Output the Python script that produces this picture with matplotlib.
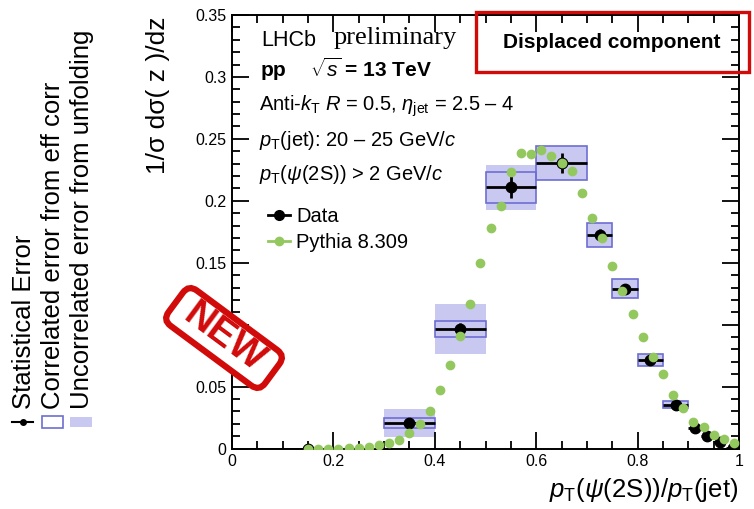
import numpy as np
import matplotlib
matplotlib.use('Agg')
import matplotlib.pyplot as plt
from matplotlib.patches import Rectangle, FancyBboxPatch
from matplotlib.lines import Line2D
from matplotlib.ticker import MultipleLocator, FuncFormatter
from matplotlib.transforms import Affine2D

plt.rcParams['font.family'] = ['Liberation Sans', 'DejaVu Sans']
plt.rcParams['mathtext.fontset'] = 'custom'
plt.rcParams['mathtext.rm'] = 'Liberation Sans'
plt.rcParams['mathtext.it'] = 'Liberation Sans:italic'
plt.rcParams['mathtext.bf'] = 'Liberation Sans:bold'

### Unfolded data (bins in z) ###
bin_lo = [0.0, 0.3, 0.4, 0.5, 0.6, 0.7, 0.75, 0.8, 0.85, 0.9, 0.925, 0.95, 0.975]
bin_hi = [0.3, 0.4, 0.5, 0.6, 0.7, 0.75, 0.8, 0.85, 0.9, 0.925, 0.95, 0.975, 1.0]
data_y = [0.0, 0.0207, 0.0967, 0.211, 0.2306, 0.1725, 0.129, 0.0718, 0.0353,
          0.0164, 0.0102, 0.0056, 0.0007]
stat_err = [0.0, 0.004, 0.005, 0.009, 0.008, 0.005, 0.004, 0.003, 0.002,
            0.002, 0.001, 0.001, 0.001]
corr_err = [0.0, 0.004, 0.0065, 0.0125, 0.014, 0.0098, 0.0075, 0.0048, 0.0028,
            0.0, 0.0, 0.0, 0.0]
uncorr_err = [0.0, 0.011, 0.020, 0.018, 0.014, 0.0098, 0.0075, 0.0048, 0.0028,
              0.0, 0.0, 0.0, 0.0]

### Pythia 8.309 ###
pythia_x = [0.15, 0.17, 0.19, 0.21, 0.23, 0.25, 0.27, 0.29, 0.31, 0.33, 0.35,
            0.37, 0.39, 0.41, 0.43, 0.45, 0.47, 0.49, 0.51, 0.53, 0.55, 0.57,
            0.59, 0.61, 0.63, 0.65, 0.67, 0.69, 0.71, 0.73, 0.75, 0.77, 0.79,
            0.81, 0.83, 0.85, 0.87, 0.89, 0.91, 0.93, 0.95, 0.97, 0.99]
pythia_y = [0.0, 0.0, 0.0, 0.0, 0.0003, 0.0008, 0.0015, 0.0029, 0.0043, 0.0070,
            0.0129, 0.0195, 0.0305, 0.047, 0.0678, 0.091, 0.117, 0.150, 0.178,
            0.196, 0.223, 0.2387, 0.238, 0.2414, 0.236, 0.2306, 0.2244, 0.2063,
            0.186, 0.1696, 0.1474, 0.127, 0.1088, 0.0902, 0.074, 0.0602, 0.0434,
            0.0327, 0.0218, 0.0177, 0.011, 0.0078, 0.0048]

fill_col = '#c8c8f0'
edge_col = '#6e6ed2'
green = '#93c85e'
red = '#d10a0a'

W, H = 754, 509
fig = plt.figure(figsize=(W / 100, H / 100), dpi=100)
ax = fig.add_axes([232 / W, 1 - 448.6 / H, 507 / W, 433.6 / H])

lo = np.array(bin_lo)
hi = np.array(bin_hi)
yc = np.array(data_y)
xc = 0.5 * (lo + hi)

# systematic boxes
for i in range(len(xc)):
    if uncorr_err[i] > 0:
        ax.add_patch(Rectangle((lo[i], yc[i] - uncorr_err[i]), hi[i] - lo[i], 2 * uncorr_err[i],
                               facecolor=fill_col, edgecolor='none', zorder=1))
    if corr_err[i] > 0:
        ax.add_patch(Rectangle((lo[i], yc[i] - corr_err[i]), hi[i] - lo[i], 2 * corr_err[i],
                               facecolor='none', edgecolor=edge_col, lw=1.2, zorder=2))

ax.errorbar(xc, yc, xerr=[xc - lo, hi - xc], yerr=stat_err, fmt='o', color='black',
            ms=7.5, elinewidth=2, capsize=0, zorder=3)
ax.plot(pythia_x, pythia_y, 'o', color=green, ms=7, mec='none', zorder=4)

ax.set_xlim(0, 1)
ax.set_ylim(0, 0.35)
ax.xaxis.set_major_locator(MultipleLocator(0.2))
ax.xaxis.set_minor_locator(MultipleLocator(0.05))
ax.yaxis.set_major_locator(MultipleLocator(0.05))
ax.yaxis.set_minor_locator(MultipleLocator(0.01))
fmt = FuncFormatter(lambda v, p: f"{v:g}")
ax.xaxis.set_major_formatter(fmt)
ax.yaxis.set_major_formatter(fmt)
ax.tick_params(which='both', direction='in', top=True, right=True, labelsize=11.5, width=1.3)
ax.tick_params(which='major', length=12, pad=4)
ax.tick_params(which='minor', length=6)
for sp in ax.spines.values():
    sp.set_linewidth(1.4)

leg_handles = [Line2D([], [], color='black', marker='o', ms=7, lw=2),
               Line2D([], [], color=green, marker='o', ms=7, lw=2, mec='none')]
ax.legend(leg_handles, ['Data', 'Pythia 8.309'], loc='upper left',
          bbox_to_anchor=(0.071, 0.558), frameon=False, fontsize=14.5,
          borderpad=0, borderaxespad=0,
          handlelength=1.1, handletextpad=0.3, labelspacing=0.38)

# text block
def ftext(px, py, s, **kw):
    fig.text(px / W, 1 - py / H, s, va='center', **kw)

ftext(261, 41, 'LHCb', fontsize=15.5)
ftext(334, 38, 'preliminary', fontsize=19, family='Liberation Serif')
ftext(261, 70, 'pp', fontsize=15, fontweight='bold')
ftext(310, 69, r'$\sqrt{s}$ = 13 TeV', fontsize=15, fontweight='bold')
ftext(259, 106, r'Anti-$k_{\mathrm{T}}$ $R$ = 0.5, $\eta_{\mathrm{jet}}$ = 2.5 – 4', fontsize=14.5)
ftext(259, 140, r'$p_{\mathrm{T}}$(jet): 20 – 25 GeV/$c$', fontsize=14.5)
ftext(259, 174, r'$p_{\mathrm{T}}$($\psi$(2S)) > 2 GeV/$c$', fontsize=14.5)

fig.add_artist(Rectangle((476 / W, 1 - 72 / H), 273 / W, 60 / H, transform=fig.transFigure,
                         facecolor='none', edgecolor=red, lw=2.4, zorder=5))
ftext(612, 42, 'Displaced component', fontsize=15, fontweight='bold', ha='center')

# axis titles
fig.text(158 / W, 1 - 95 / H, r'1/σ dσ( z )/dz', rotation=90, fontsize=19,
         ha='center', va='center')
fig.text(738 / W, 1 - 490 / H, r'$p_{\mathrm{T}}$($\psi$(2S))/$p_{\mathrm{T}}$(jet)',
         fontsize=18.5, ha='right', va='center')

# error legend on the left, rotated
leg_x = [24, 53, 82]
leg_lbl = ['Statistical Error', 'Correlated error from eff corr',
           'Uncorrelated error from unfolding']
for x, s in zip(leg_x, leg_lbl):
    fig.text(x / W, 1 - 409 / H, s, rotation=90, fontsize=18.5, ha='center', va='bottom')
fig.add_artist(Line2D([12 / W, 33 / W], [1 - 422 / H, 1 - 422 / H], color='black', lw=1.5,
                      transform=fig.transFigure))
fig.add_artist(Line2D([22.5 / W], [1 - 422 / H], color='black', marker='o', ms=4,
                      transform=fig.transFigure))
fig.add_artist(Rectangle((42 / W, 1 - 428 / H), 21 / W, 12 / H, transform=fig.transFigure,
                         facecolor='white', edgecolor=edge_col, lw=1.2))
fig.add_artist(Rectangle((70 / W, 1 - 427 / H), 22 / W, 10 / H, transform=fig.transFigure,
                         facecolor=fill_col, edgecolor='none'))

# NEW stamp
cx, cy = 224, H - 338
rot = Affine2D().rotate_deg_around(cx, cy, -36.5)
stamp = FancyBboxPatch((cx - 60, cy - 22), 120, 44, boxstyle='round,pad=0,rounding_size=10',
                       facecolor='white', edgecolor=red, lw=4.5, transform=rot, zorder=10)
fig.add_artist(stamp)
fig.text(cx / W, cy / H, 'NEW', rotation=-36.5, fontsize=28, fontweight='bold', color=red,
         ha='center', va='center', rotation_mode='anchor', zorder=11)

fig.savefig('out.png', dpi=100)
